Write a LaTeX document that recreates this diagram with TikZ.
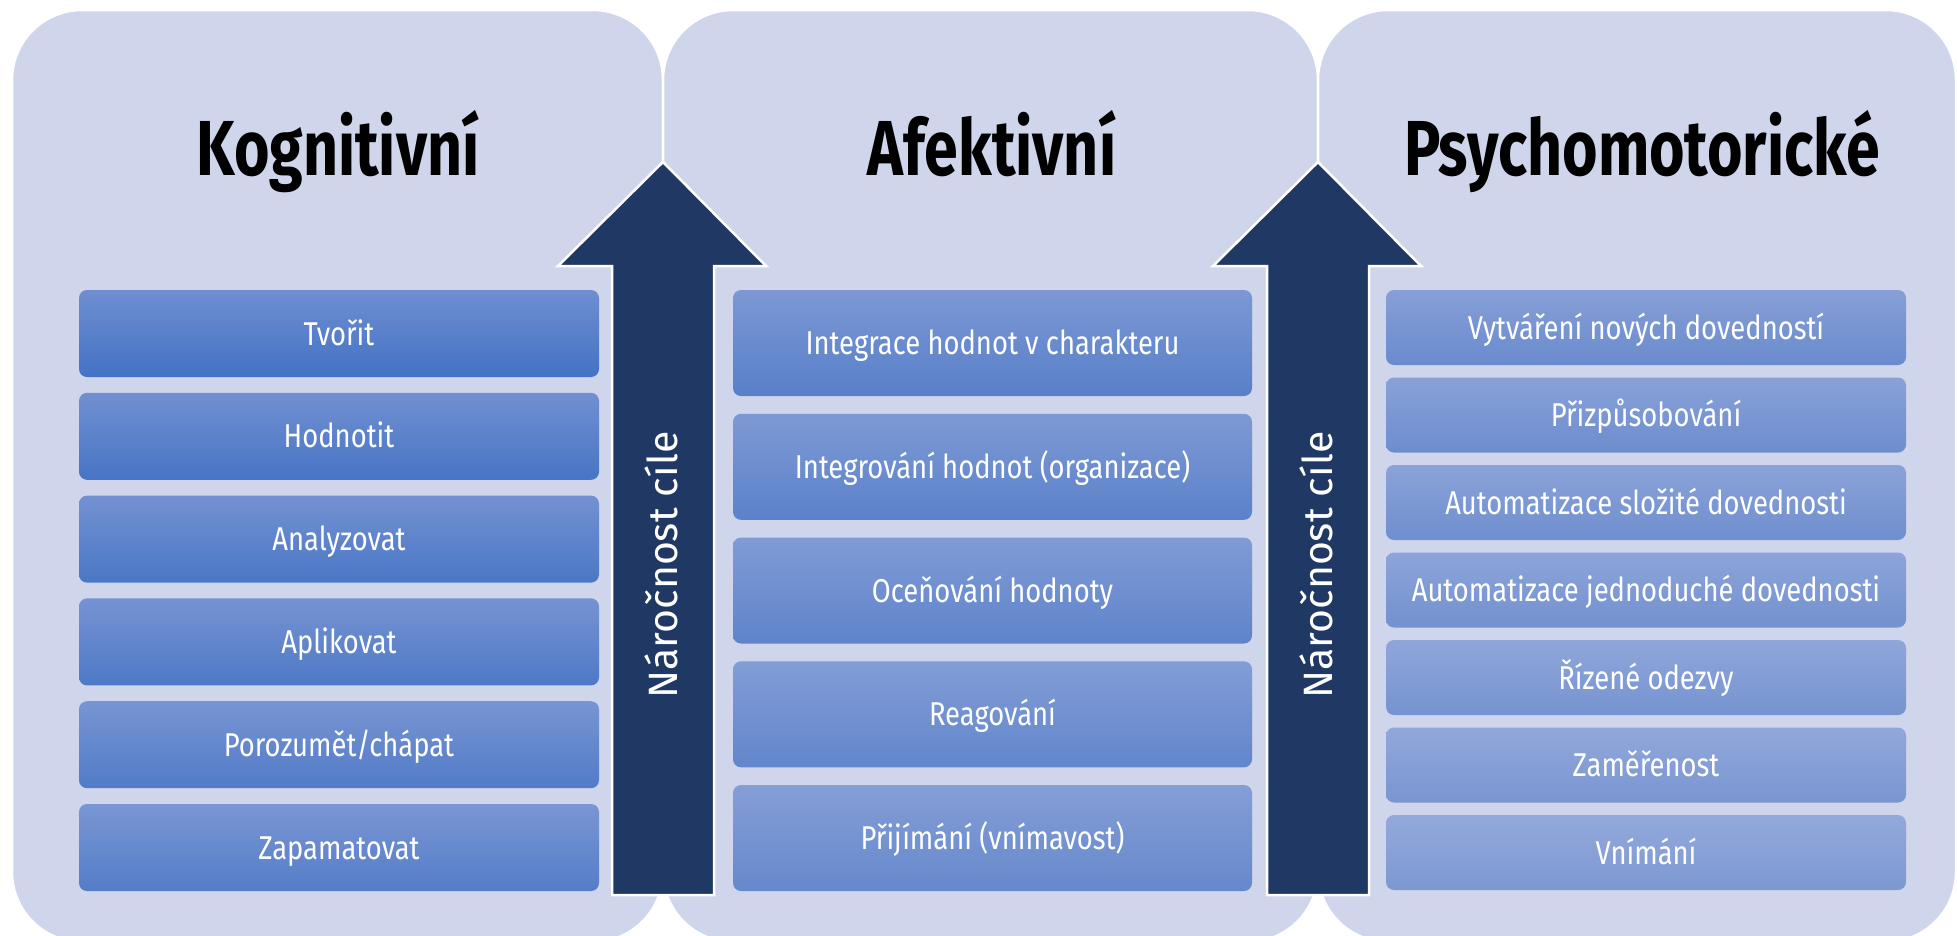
\documentclass[tikz,border=0pt]{standalone}
\usepackage{fontspec}
\setmainfont{Fira Sans}
\newfontfamily\itemfont[FakeStretch=0.83]{Fira Sans}
\newfontfamily\headfont[FakeStretch=0.78]{Fira Sans}
\definecolor{panelfill}{HTML}{CFD5EA}
\definecolor{arrowfill}{HTML}{203864}
\definecolor{darktop}{HTML}{6F8ED0}
\definecolor{darkbot}{HTML}{4472C4}
\definecolor{lighttop}{HTML}{93A9DB}
\definecolor{lightbot}{HTML}{7D98D2}

\begin{document}
\begin{tikzpicture}[x     = {(1pt,0pt)},
                    y     = {(0pt,-1pt)},
                    line join = miter]
% styles
\tikzset{panel/.style={fill=panelfill,draw=white,line width=2.5pt,rounded corners=70pt},
         bigarrow/.style={fill=arrowfill,draw=white,line width=2.5pt},
         head/.style={font=\headfont\bfseries\fontsize{78}{88}\selectfont,anchor=base},
         climb/.style={font=\fontsize{41}{46}\selectfont,text=white,rotate=90,
                       text height=29pt,text depth=0pt,inner sep=0pt},
         item/.style={rounded corners=8pt,inner sep=0pt,text=white,
                      font=\itemfont\fontsize{33}{39}\selectfont,
                      text height=23pt,text depth=0pt,
                      top color=lighttop!#1!darktop,bottom color=lightbot!#1!darkbot}}
\clip (0,0) rectangle (1957,935);
% panels
\path[panel] (12,10)   rectangle (663,942);
\path[panel] (663,10)  rectangle (1318,942);
\path[panel] (1318,10) rectangle (1956,942);
% arrows "Náročnost cíle"
\path[bigarrow] (663,162) -- (766,266) -- (714,266) -- (714,895) --
  (612,895) -- (612,266) -- (558,266) -- cycle;
\path[bigarrow] (1318,162) -- (1421,266) -- (1369,266) -- (1369,895) --
  (1267,895) -- (1267,266) -- (1213,266) -- cycle;
\node[climb] (climb1) at (663,565)  {Náročnost cíle};
\node[climb] (climb2) at (1318,565) {Náročnost cíle};
% titles
\node[head] (kogtitle) at (338,175)  {Kognitivní};
\node[head] (afetitle) at (992,175)  {Afektivní};
\node[head] (psytitle) at (1642,175) {Psychomotorické};
% column "Kognitivní"
\begin{scope}[every node/.append style={minimum width=520pt,minimum height=87pt}]
  \node[item=0]  (kog1) at (339,333.5) {Tvořit};
  \node[item=6]  (kog2) at (339,436.3) {Hodnotit};
  \node[item=12] (kog3) at (339,539.1) {Analyzovat};
  \node[item=18] (kog4) at (339,641.9) {Aplikovat};
  \node[item=24] (kog5) at (339,744.7) {Porozumět/chápat};
  \node[item=29] (kog6) at (339,847.5) {Zapamatovat};
\end{scope}
% column "Afektivní"
\begin{scope}[every node/.append style={minimum width=519pt,minimum height=106pt}]
  \node[item=35] (afe1) at (992.5,343)   {Integrace hodnot v charakteru};
  \node[item=41] (afe2) at (992.5,466.8) {Integrování hodnot (organizace)};
  \node[item=47] (afe3) at (992.5,590.5) {Oceňování hodnoty};
  \node[item=53] (afe4) at (992.5,714.3) {Reagování};
  \node[item=59] (afe5) at (992.5,838)   {Přijímání (vnímavost)};
\end{scope}
% column "Psychomotorické"
\begin{scope}[every node/.append style={minimum width=520pt,minimum height=75pt}]
  \node[item=65]  (psy1) at (1646,327.5) {Vytváření nových dovedností};
  \node[item=71]  (psy2) at (1646,415)   {Přizpůsobování};
  \node[item=76]  (psy3) at (1646,502.5) {Automatizace složité dovednosti};
  \node[item=82]  (psy4) at (1646,590)   {Automatizace jednoduché dovednosti};
  \node[item=88]  (psy5) at (1646,677.5) {Řízené odezvy};
  \node[item=94]  (psy6) at (1646,765)   {Zaměřenost};
  \node[item=100] (psy7) at (1646,852.5) {Vnímání};
\end{scope}
\end{tikzpicture}
\end{document}
